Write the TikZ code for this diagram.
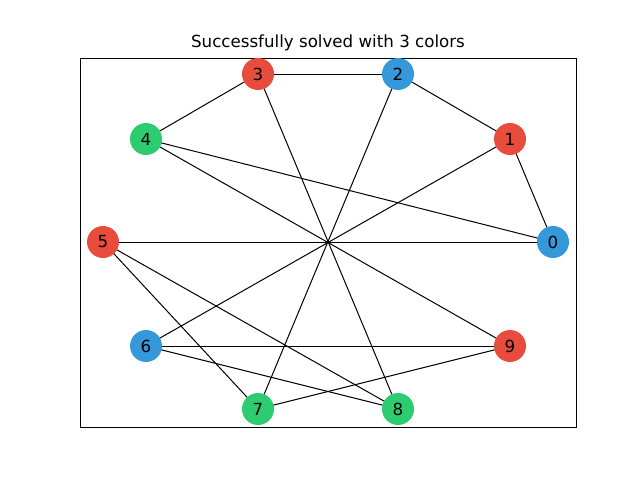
\documentclass[tikz,border=0pt]{standalone}
\usepackage{fontspec}
\setmainfont{DejaVu Sans}
\usetikzlibrary{backgrounds}
\definecolor{cred}{HTML}{E74C3C}
\definecolor{cblue}{HTML}{3498DB}
\definecolor{cgreen}{HTML}{2ECC71}
\begin{document}
\begin{tikzpicture}[x=0.72pt,y=-0.72pt,
  vtx/.style={circle,minimum size=32*0.72pt,inner sep=0pt,font=\fontsize{12}{14}\selectfont},
  edge/.style={black,line width=0.72pt}]
\useasboundingbox (0,0) rectangle (640,480);
\draw[line width=0.58pt] (80,58) rectangle (576,427);
\node[font=\fontsize{12}{14}\selectfont] (title) at (328,43) {Successfully solved with 3 colors};
\node[vtx,fill=cblue] (n0) at (553,242) {0};
\node[vtx,fill=cred] (n1) at (510,139) {1};
\node[vtx,fill=cblue] (n2) at (398,74) {2};
\node[vtx,fill=cred] (n3) at (258,74) {3};
\node[vtx,fill=cgreen] (n4) at (146,139) {4};
\node[vtx,fill=cred] (n5) at (103,242) {5};
\node[vtx,fill=cblue] (n6) at (146,346) {6};
\node[vtx,fill=cgreen] (n7) at (258,409) {7};
\node[vtx,fill=cgreen] (n8) at (398,409) {8};
\node[vtx,fill=cred] (n9) at (510,346) {9};
\begin{scope}[on background layer]
\foreach \a/\b in {3/2,2/1,1/0,3/4,4/0,4/9,3/8,2/7,1/6,5/0,5/7,5/8,6/9,6/8,7/9}
  \draw[edge] (n\a.center) -- (n\b.center);
\end{scope}
\end{tikzpicture}
\end{document}
